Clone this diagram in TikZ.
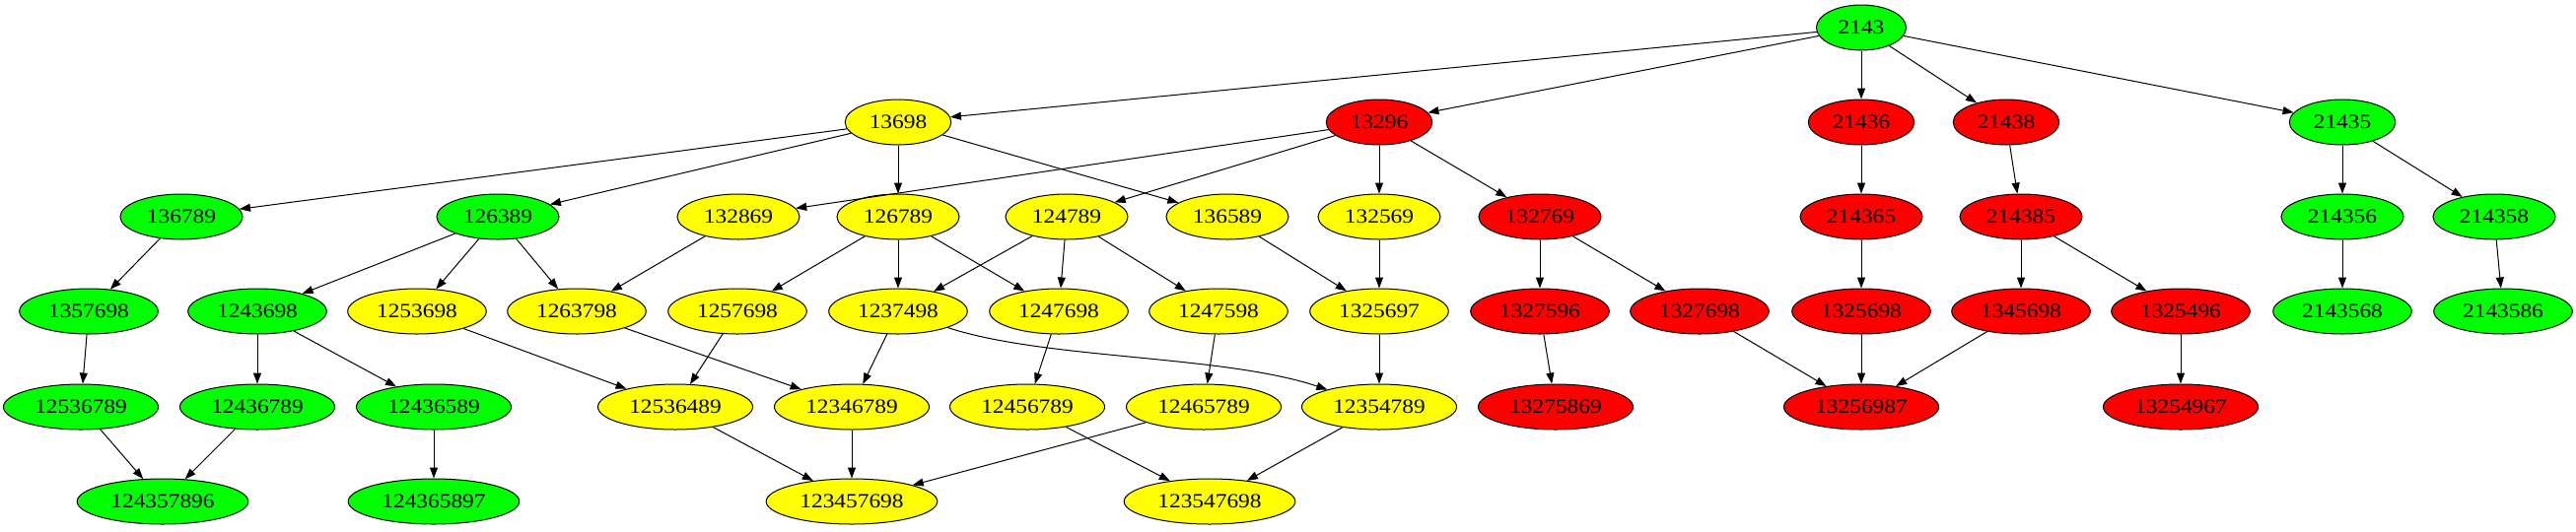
\documentclass[tikz,border=0pt]{standalone}
\usepackage{fontspec}
\setmainfont[FakeStretch=1.14]{Liberation Serif}
\usetikzlibrary{shapes.geometric,arrows.meta}
\definecolor{gvgreen}{RGB}{0,255,0}
\definecolor{gvyellow}{RGB}{255,255,0}
\definecolor{gvred}{RGB}{255,0,0}
\begin{document}
\begin{tikzpicture}[x=1pt,y=-1pt,
  gv/.style={ellipse,draw=black,line width=1pt,inner xsep=8.8pt,inner ysep=2pt,
    minimum height=46pt,font=\fontsize{20.5}{24}\selectfont},
  G/.style={gv,fill=gvgreen},
  Y/.style={gv,fill=gvyellow},
  R/.style={gv,fill=gvred},
  link/.style={draw=black,line width=1pt,-{Triangle[length=11pt,width=8pt]}}]
\fill[white] (0,0) rectangle (2613,539);
\useasboundingbox (0,0) rectangle (2613,539);
% row 0
\node[G] (n2143) at (1888,28) {2143};
% row 1
\node[Y] (n13698) at (911,124) {13698};
\node[R] (n13296) at (1399,124) {13296};
\node[R] (n21436) at (1888,124) {21436};
\node[R] (n21438) at (2035,124) {21438};
\node[G] (n21435) at (2376,124) {21435};
% row 2
\node[G] (n136789) at (184,220) {136789};
\node[G] (n126389) at (505,220) {126389};
\node[Y] (n132869) at (749,220) {132869};
\node[Y] (n126789) at (911,220) {126789};
\node[Y] (n124789) at (1082,220) {124789};
\node[Y] (n136589) at (1245,220) {136589};
\node[Y] (n132569) at (1399,220) {132569};
\node[R] (n132769) at (1562,220) {132769};
\node[R] (n214365) at (1888,220) {214365};
\node[R] (n214385) at (2050,220) {214385};
\node[G] (n214356) at (2376,220) {214356};
\node[G] (n214358) at (2530,220) {214358};
% row 3
\node[G] (n1357698) at (90,316) {1357698};
\node[G] (n1243698) at (261,316) {1243698};
\node[Y] (n1253698) at (423,316) {1253698};
\node[Y] (n1263798) at (585,316) {1263798};
\node[Y] (n1257698) at (748,316) {1257698};
\node[Y] (n1237498) at (911,316) {1237498};
\node[Y] (n1247698) at (1074,316) {1247698};
\node[Y] (n1247598) at (1236,316) {1247598};
\node[Y] (n1325697) at (1399,316) {1325697};
\node[R] (n1327596) at (1562,316) {1327596};
\node[R] (n1327698) at (1724,316) {1327698};
\node[R] (n1325698) at (1888,316) {1325698};
\node[R] (n1345698) at (2050,316) {1345698};
\node[R] (n1325496) at (2212,316) {1325496};
\node[G] (n2143568) at (2376,316) {2143568};
\node[G] (n2143586) at (2539,316) {2143586};
% row 4
\node[G] (n12536789) at (82,413) {12536789};
\node[G] (n12436789) at (261,413) {12436789};
\node[G] (n12436589) at (440,413) {12436589};
\node[Y] (n12536489) at (685,413) {12536489};
\node[Y] (n12346789) at (864,413) {12346789};
\node[Y] (n12456789) at (1042,413) {12456789};
\node[Y] (n12465789) at (1221,413) {12465789};
\node[Y] (n12354789) at (1399,413) {12354789};
\node[R] (n13275869) at (1578,413) {13275869};
\node[R] (n13256987) at (1888,413) {13256987};
\node[R] (n13254967) at (2212,413) {13254967};
% row 5
\node[G] (n124357896) at (165,509) {124357896};
\node[G] (n124365897) at (440,509) {124365897};
\node[Y] (n123457698) at (864,509) {123457698};
\node[Y] (n123547698) at (1227,509) {123547698};
% edges
\path[link] (n2143) -- (n13698);
\path[link] (n2143) -- (n13296);
\path[link] (n2143) -- (n21436);
\path[link] (n2143) -- (n21438);
\path[link] (n2143) -- (n21435);
\path[link] (n13698) -- (n136789);
\path[link] (n13698) -- (n126389);
\path[link] (n13698) -- (n126789);
\path[link] (n13698) -- (n136589);
\path[link] (n13296) -- (n132869);
\path[link] (n13296) -- (n124789);
\path[link] (n13296) -- (n132569);
\path[link] (n13296) -- (n132769);
\path[link] (n21436) -- (n214365);
\path[link] (n21438) -- (n214385);
\path[link] (n21435) -- (n214356);
\path[link] (n21435) -- (n214358);
\path[link] (n136789) -- (n1357698);
\path[link] (n126389) -- (n1243698);
\path[link] (n126389) -- (n1253698);
\path[link] (n126389) -- (n1263798);
\path[link] (n132869) -- (n1263798);
\path[link] (n126789) -- (n1257698);
\path[link] (n126789) -- (n1237498);
\path[link] (n126789) -- (n1247698);
\path[link] (n124789) -- (n1237498);
\path[link] (n124789) -- (n1247698);
\path[link] (n124789) -- (n1247598);
\path[link] (n136589) -- (n1325697);
\path[link] (n132569) -- (n1325697);
\path[link] (n132769) -- (n1327596);
\path[link] (n132769) -- (n1327698);
\path[link] (n214365) -- (n1325698);
\path[link] (n214385) -- (n1345698);
\path[link] (n214385) -- (n1325496);
\path[link] (n214356) -- (n2143568);
\path[link] (n214358) -- (n2143586);
\path[link] (n1357698) -- (n12536789);
\path[link] (n1243698) -- (n12436789);
\path[link] (n1243698) -- (n12436589);
\path[link] (n1253698) -- (n12536489);
\path[link] (n1263798) -- (n12346789);
\path[link] (n1257698) -- (n12536489);
\path[link] (n1237498) -- (n12346789);
\path[link] (n1237498) .. controls (1060,365) and (1240,360) .. (n12354789);
\path[link] (n1247698) -- (n12456789);
\path[link] (n1247598) -- (n12465789);
\path[link] (n1325697) -- (n12354789);
\path[link] (n1327596) -- (n13275869);
\path[link] (n1327698) -- (n13256987);
\path[link] (n1325698) -- (n13256987);
\path[link] (n1345698) -- (n13256987);
\path[link] (n1325496) -- (n13254967);
\path[link] (n12536789) -- (n124357896);
\path[link] (n12436789) -- (n124357896);
\path[link] (n12436589) -- (n124365897);
\path[link] (n12536489) -- (n123457698);
\path[link] (n12346789) -- (n123457698);
\path[link] (n12456789) -- (n123547698);
\path[link] (n12465789) -- (n123457698);
\path[link] (n12354789) -- (n123547698);
\end{tikzpicture}
\end{document}
